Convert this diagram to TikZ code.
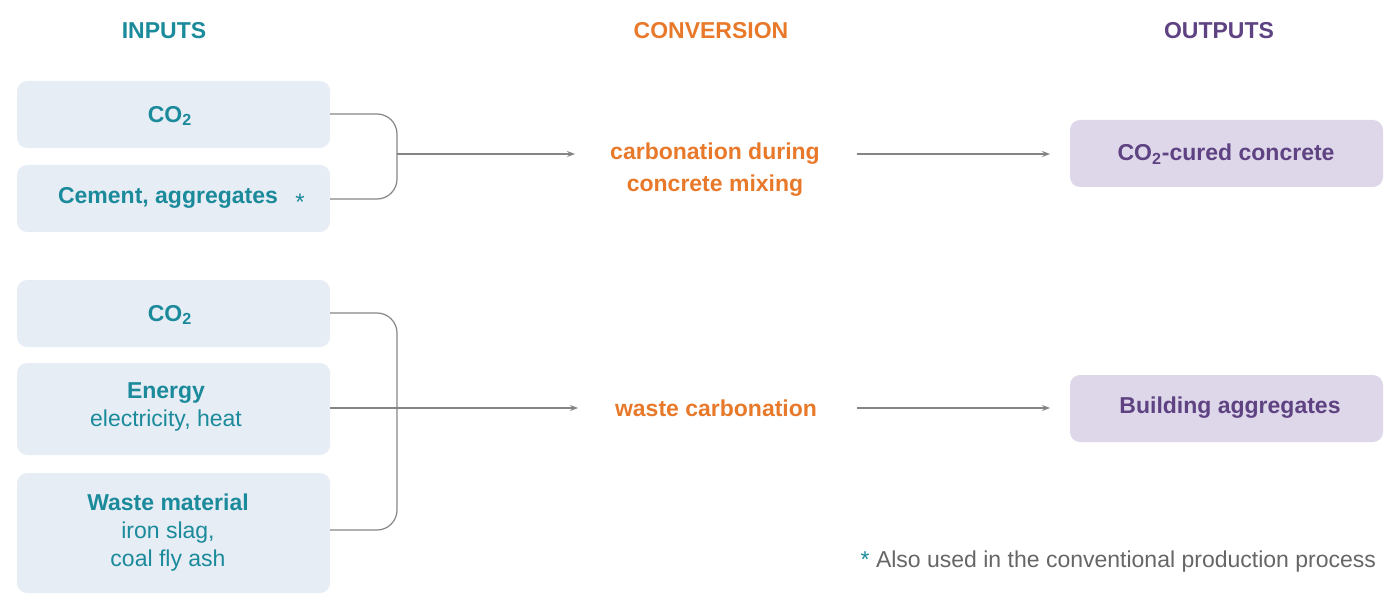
\documentclass[tikz,border=0pt]{standalone}
\usepackage{fontspec}
\setmainfont{Liberation Sans}
\usetikzlibrary{arrows.meta}
\definecolor{teal}{HTML}{1B8A9B}
\definecolor{orng}{HTML}{E8792A}
\definecolor{purp}{HTML}{5E4282}
\definecolor{inbox}{HTML}{E6EDF5}
\definecolor{outbox}{HTML}{DED7EA}
\definecolor{gry}{HTML}{666666}
\tikzset{
 inp/.style={fill=inbox,rounded corners=5pt,text=teal,align=center,font=\fontsize{11.5}{14}\selectfont},
 outp/.style={fill=outbox,rounded corners=5pt,text=purp,font=\fontsize{11.5}{14}\selectfont\bfseries},
 hdr/.style={font=\fontsize{11.5}{14}\selectfont\bfseries},
 conv/.style={text=orng,align=center,font=\fontsize{11.5}{16}\selectfont\bfseries},
 con/.style={draw=gry!80,line width=0.6pt,rounded corners=10pt},
 arr/.style={draw=gry!80,line width=0.6pt,-{Stealth[length=4pt,width=3pt]}}
}
\begin{document}
\begin{tikzpicture}[x=0.5pt,y=-0.5pt]
\useasboundingbox (0,0) rectangle (1400,609);
\node[hdr,text=teal] (h1) at (164,31) {INPUTS};
\node[hdr,text=orng] (h2) at (711,31) {CONVERSION};
\node[hdr,text=purp] (h3) at (1219,31) {OUTPUTS};
% boxes
\path[inp] (17,81) rectangle (330,148);
\node[inp,fill=none] (a1) at (170,116) {\bfseries CO\textsubscript{2}};
\path[inp] (17,165) rectangle (330,232);
\node[inp,fill=none] (a2) at (168,198) {\bfseries Cement, aggregates};
\node[text=teal,font=\large] (ast1) at (300,202) {*};
\path[inp] (17,280) rectangle (330,347);
\node[inp,fill=none] (b1) at (170,315) {\bfseries CO\textsubscript{2}};
\path[inp] (17,363) rectangle (330,455);
\node[inp,fill=none] (b2) at (166,407) {\textbf{Energy}\\electricity, heat};
\path[inp] (17,473) rectangle (330,593);
\node[inp,fill=none] (b3) at (168,533) {\textbf{Waste material}\\iron slag,\\coal fly ash};
\path[outp] (1070,120) rectangle (1383,187);
\node[outp,fill=none] (o1) at (1226,154) {CO\textsubscript{2}-cured concrete};
\path[outp] (1070,375) rectangle (1383,442);
\node[outp,fill=none] (o2) at (1230,408) {Building aggregates};
\node[conv] (c1) at (715,170) {carbonation during\\concrete mixing};
\node[conv] (c2) at (716,408) {waste carbonation};
% connectors
\coordinate (j1) at (397,154);
\coordinate (j2) at (397,408);
\draw[con] (330,114) -- (397,114) -- (397,199) -- (330,199);
\draw[arr] (j1) -- (575,154);
\draw[arr] (857,154) -- (1050,154);
\draw[con] (330,313) -- (397,313) -- (397,530) -- (330,530);
\draw[arr] (330,408) -- (578,408);
\draw[arr] (857,408) -- (1050,408);
\node[text=gry,anchor=east,font=\fontsize{11.5}{14}\selectfont] (fn) at (1383,562) {{\color{teal}*} Also used in the conventional production process};
\end{tikzpicture}
\end{document}
